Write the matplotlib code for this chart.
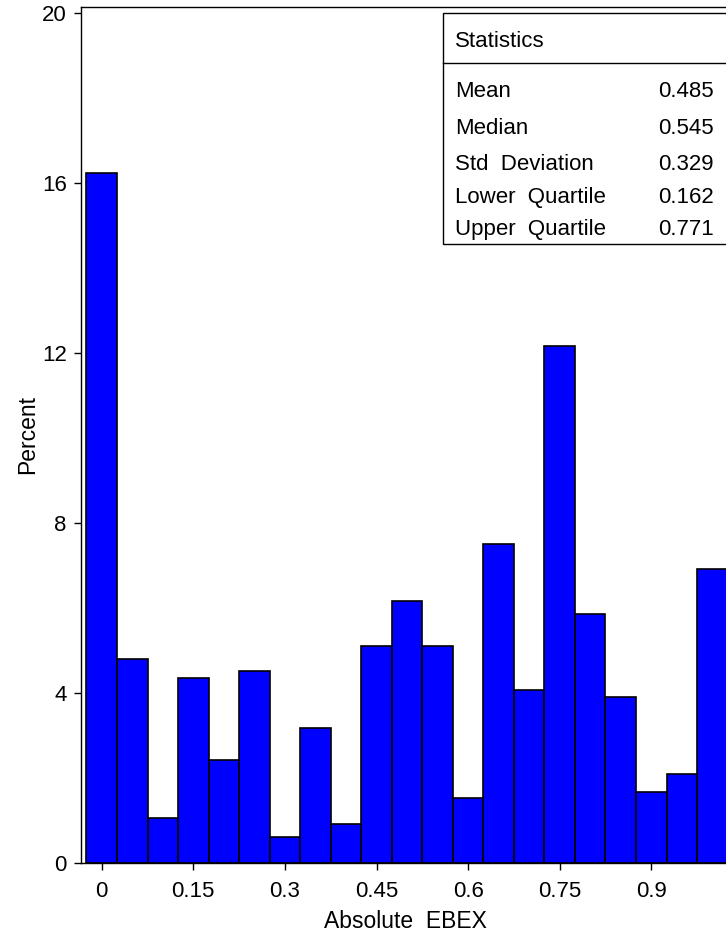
import matplotlib.pyplot as plt

plt.rcParams['font.family'] = ['Liberation Sans', 'DejaVu Sans']

# bin midpoints of Absolute EBEX and percent per bin
bin_mids = [0.0, 0.05, 0.10, 0.15, 0.20, 0.25, 0.30, 0.35, 0.40, 0.45, 0.50,
            0.55, 0.60, 0.65, 0.70, 0.75, 0.80, 0.85, 0.90, 0.95, 1.00]
percents = [16.23, 4.79, 1.05, 4.35, 2.42, 4.50, 0.61, 3.16, 0.91, 5.11, 6.16,
            5.11, 1.52, 7.51, 4.06, 12.16, 5.85, 3.89, 1.66, 2.09, 6.91]
x_ticks = [0, 0.15, 0.3, 0.45, 0.6, 0.75, 0.9]
x_tick_labels = ['0', '0.15', '0.3', '0.45', '0.6', '0.75', '0.9']
y_ticks = [0, 4, 8, 12, 16, 20]

stat_names = ['Mean', 'Median', 'Std  Deviation', 'Lower  Quartile', 'Upper  Quartile']
stat_values = ['0.485', '0.545', '0.329', '0.162', '0.771']

W, H = 726, 936
fig = plt.figure(figsize=(W / 100, H / 100), dpi=100)

# axes box in pixels (right side runs past the image edge)
left, right, top, bottom = 80.7, 749.0, 7.3, 862.7
ax = fig.add_axes([left / W, 1 - bottom / H, (right - left) / W, (bottom - top) / H])

ax.bar(bin_mids, percents, width=0.05, color='#0000ff', edgecolor='black', linewidth=1.2)

ax.set_xlim(-0.0344, 1.06)
ax.set_ylim(0, (bottom - top) / 42.5)
ax.set_xticks(x_ticks)
ax.set_xticklabels(x_tick_labels)
ax.set_yticks(y_ticks)
ax.tick_params(axis='x', labelsize=16, length=5, width=1, pad=8)
ax.tick_params(axis='y', labelsize=16, length=5, width=1, pad=5)
ax.spines['right'].set_visible(False)
for s in ['left', 'top', 'bottom']:
    ax.spines[s].set_linewidth(1.0)

ax.set_xlabel('Absolute  EBEX', fontsize=16.5)
ax.xaxis.label.set_va('top')
ax.xaxis.set_label_coords((405 - left) / (right - left), -(910 - bottom) / (bottom - top))
ax.set_ylabel('Percent', fontsize=16.5, labelpad=2)

# statistics inset table
bx0, by0, by1 = 443.3, 13.3, 244.0
box = plt.Rectangle((bx0 / W, 1 - by1 / H), (W + 20 - bx0) / W, (by1 - by0) / H,
                    transform=fig.transFigure, facecolor='white', edgecolor='black',
                    linewidth=1.0, zorder=5)
fig.add_artist(box)
fig.add_artist(plt.Line2D([bx0 / W, 1.0], [1 - 62.7 / H, 1 - 62.7 / H],
                          transform=fig.transFigure, color='black', linewidth=1.0, zorder=6))
fig.text(455 / W, 1 - 47 / H, 'Statistics', fontsize=16, va='baseline', ha='left', zorder=7)
row_base = [97, 134, 170, 203, 235]
for name, val, yy in zip(stat_names, stat_values, row_base):
    fig.text(455 / W, 1 - yy / H, name, fontsize=16, va='baseline', ha='left', zorder=7)
    fig.text(714 / W, 1 - yy / H, val, fontsize=16, va='baseline', ha='right', zorder=7)

fig.savefig('out.png', dpi=100)
